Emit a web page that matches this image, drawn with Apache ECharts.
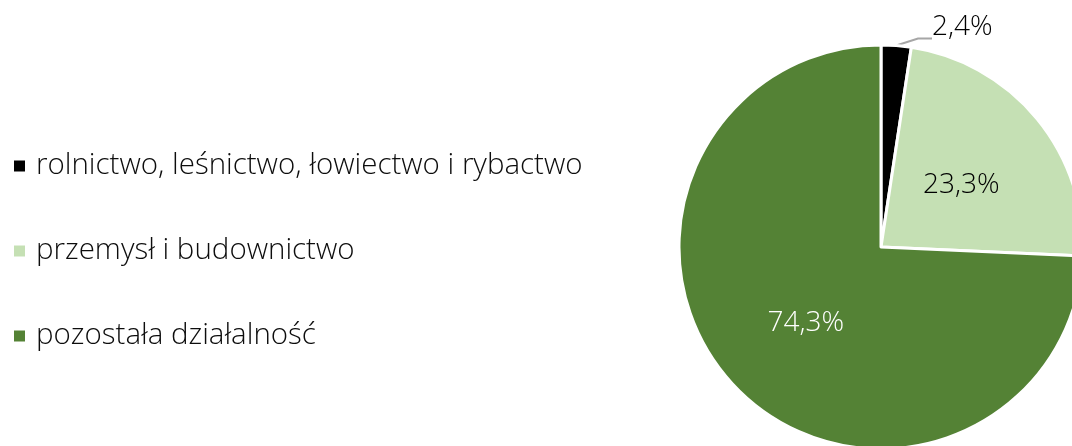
<!DOCTYPE html>
<html>
<head>
<meta charset="utf-8">
<script src="https://cdn.jsdelivr.net/npm/echarts@6/dist/echarts.min.js"></script>
<style>
  html, body { margin: 0; padding: 0; background: #fff; }
  #chart { width: 1072px; height: 446px; }
</style>
</head>
<body>
<div id="chart"></div>
<script>
// Struktura według sektorów
const categories = ['rolnictwo, leśnictwo, łowiectwo i rybactwo', 'przemysł i budownictwo', 'pozostała działalność'];
const shares = [2.4, 23.3, 74.3];
const colors = ['#000000', '#c5e0b4', '#548235'];
const labelColors = ['#000000', '#000000', '#ffffff'];

const FONT = '"Open Sans", "Liberation Sans", sans-serif';
const fmt = v => v.toFixed(1).replace('.', ',') + '%';

const pieData = categories.map((name, i) => {
  const item = {
    name: name,
    value: shares[i],
    itemStyle: { color: colors[i] },
    label: { color: labelColors[i], offset: [0, 4] }
  };
  if (i === 0) {
    // small slice: label outside with a grey leader line; an empty second
    // rich line lowers the label box so the line meets it below the text
    item.label = {
      position: 'outside',
      color: '#000',
      formatter: p => '{t|' + fmt(p.value) + '}\n{gap|}',
      rich: {
        t: { fontFamily: FONT, fontSize: 28, fontWeight: 300, color: '#000', lineHeight: 30 },
        gap: { height: 16, lineHeight: 16 }
      }
    };
    item.labelLine = {
      show: true,
      length: 16,
      length2: 14,
      lineStyle: { color: '#a6a6a6', width: 2 }
    };
  }
  return item;
});

const chart = echarts.init(document.getElementById('chart'), null, { renderer: 'canvas' });
chart.setOption({
  animation: false,
  legend: {
    orient: 'vertical',
    left: 12,
    top: 151,
    padding: 0,
    itemWidth: 13,
    itemHeight: 13,
    itemGap: 55,
    icon: 'rect',
    textStyle: {
      fontFamily: FONT, fontSize: 29.5, fontWeight: 300, color: '#0d0d0d',
      lineHeight: 30, padding: [0, 0, 0, 5]
    },
    data: categories
  },
  series: [{
    type: 'pie',
    center: [881, 247],
    radius: 202,
    startAngle: 90,
    clockwise: true,
    avoidLabelOverlap: false,
    itemStyle: { borderColor: '#ffffff', borderWidth: 3 },
    label: {
      show: true,
      position: 'inside',
      fontFamily: FONT,
      fontSize: 28,
      fontWeight: 300,
      formatter: p => fmt(p.value)
    },
    labelLine: { show: false },
    labelLayout: function (params) {
      if (params.dataIndex === 0) {
        return { x: 932, y: 35, align: 'left', verticalAlign: 'middle' };
      }
      return {};
    },
    data: pieData
  }]
});
</script>
</body>
</html>
